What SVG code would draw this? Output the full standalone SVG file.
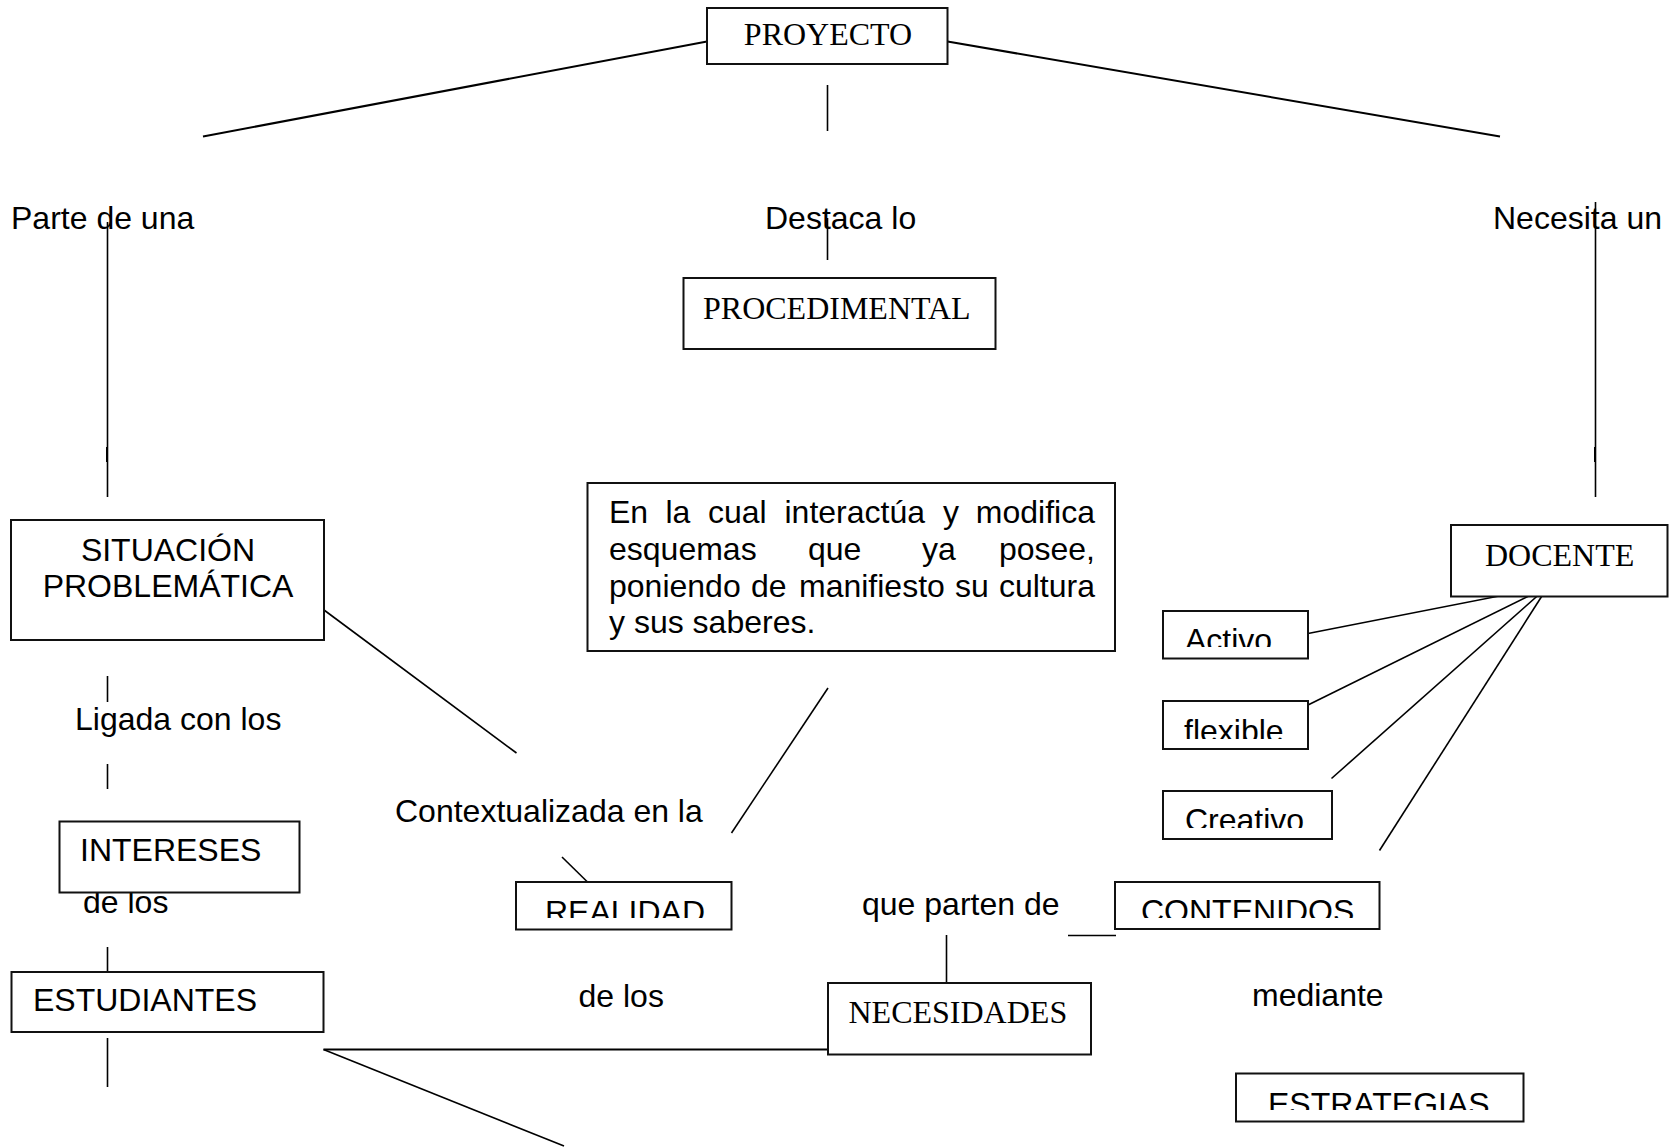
<svg xmlns="http://www.w3.org/2000/svg" width="1675" height="1147" viewBox="0 0 1675 1147">
<style>
.box{fill:#fff;stroke:#111;stroke-width:2}
.ln{stroke:#000;stroke-width:1.6;fill:none}
.ln2{stroke:#000;stroke-width:2;fill:none}
.s{font-family:"Liberation Sans",Arial,sans-serif;font-size:32px;fill:#000}
.r{font-family:"Liberation Serif","Times New Roman",serif;font-size:32px;fill:#000}
</style>
<defs>
<clipPath id="cA"><rect x="1163" y="611" width="145" height="36"/></clipPath>
<clipPath id="cF"><rect x="1163" y="701" width="145" height="38"/></clipPath>
<clipPath id="cC"><rect x="1163" y="791" width="169" height="37"/></clipPath>
<clipPath id="cR"><rect x="516" y="882" width="216" height="36"/></clipPath>
<clipPath id="cN"><rect x="1115" y="882" width="265" height="36"/></clipPath>
<clipPath id="cE"><rect x="1236" y="1073" width="288" height="37"/></clipPath>
</defs>
<rect width="1675" height="1147" fill="#fff"/>
<g id="connectors">
<line class="ln2" x1="707" y1="41.5" x2="203" y2="136.5"/>
<line class="ln2" x1="947.5" y1="41.5" x2="1500" y2="136.5"/>
<line class="ln" x1="827.5" y1="85" x2="827.5" y2="131"/>
<line class="ln" x1="827.5" y1="218" x2="827.5" y2="260"/>
<line class="ln" x1="107.5" y1="222" x2="107.5" y2="497"/>
<line class="ln" x1="106.8" y1="447" x2="106.8" y2="462"/>
<line class="ln" x1="1595.5" y1="202" x2="1595.5" y2="497"/>
<line class="ln" x1="1594.8" y1="447" x2="1594.8" y2="462"/>
<line class="ln" x1="324" y1="610" x2="516.5" y2="753"/>
<line class="ln" x1="107.5" y1="676" x2="107.5" y2="702"/>
<line class="ln" x1="107.5" y1="764" x2="107.5" y2="789"/>
<line class="ln" x1="107.5" y1="855" x2="107.5" y2="882"/>
<line class="ln" x1="107.5" y1="947" x2="107.5" y2="972"/>
<line class="ln" x1="107.5" y1="1038" x2="107.5" y2="1087"/>
<line class="ln2" x1="323.5" y1="1049.5" x2="828" y2="1049.5"/>
<line class="ln" x1="323.5" y1="1049.5" x2="564" y2="1146"/>
<line class="ln" x1="562" y1="857" x2="587.5" y2="882"/>
<line class="ln" x1="828" y1="688" x2="731.5" y2="833"/>
<line class="ln" x1="1548" y1="586.5" x2="1308" y2="633.5"/>
<line class="ln" x1="1548" y1="586.5" x2="1308" y2="705"/>
<line class="ln" x1="1548" y1="586.5" x2="1331.5" y2="778.5"/>
<line class="ln" x1="1548" y1="586.5" x2="1379.5" y2="850.5"/>
<line class="ln" x1="1068" y1="935.5" x2="1116" y2="935.5"/>
<line class="ln" x1="946.5" y1="935" x2="946.5" y2="983"/>
</g>
<g id="labels">
<text class="s" x="11" y="229">Parte de una</text>
<text class="s" x="765" y="229">Destaca lo</text>
<text class="s" x="1493" y="229">Necesita un</text>
<text class="s" x="75" y="730">Ligada con los</text>
<text class="s" x="395" y="822">Contextualizada en la</text>
<text class="s" x="83" y="913">de los</text>
<text class="s" x="862" y="915">que parten de</text>
<text class="s" x="578.5" y="1007">de los</text>
<text class="s" x="1252" y="1006">mediante</text>
</g>
<g id="proyecto">
<rect class="box" x="707" y="8" width="240.5" height="56"/>
<text class="r" x="828" y="45" text-anchor="middle">PROYECTO</text>
</g>
<g id="procedimental">
<rect class="box" x="683.5" y="278" width="312" height="71"/>
<text class="r" x="703" y="319">PROCEDIMENTAL</text>
</g>
<g id="situacion">
<rect class="box" x="11" y="520" width="313" height="120"/>
<text class="s" x="168" y="561" text-anchor="middle">SITUACIÓN</text>
<text class="s" x="168" y="597" text-anchor="middle">PROBLEMÁTICA</text>
</g>
<g id="interactua">
<rect class="box" x="587.5" y="483" width="527.5" height="168"/>
<text class="s" y="523"><tspan x="609">En</tspan><tspan x="665.5">la</tspan><tspan x="708">cual</tspan><tspan x="784.5">interactúa</tspan><tspan x="943">y</tspan><tspan x="1095" text-anchor="end">modifica</tspan></text>
<text class="s" y="560"><tspan x="609">esquemas</tspan><tspan x="808">que</tspan><tspan x="922">ya</tspan><tspan x="1095" text-anchor="end">posee,</tspan></text>
<text class="s" y="597"><tspan x="609">poniendo</tspan><tspan x="751">de</tspan><tspan x="799">manifiesto</tspan><tspan x="955">su</tspan><tspan x="1095" text-anchor="end">cultura</tspan></text>
<text class="s" x="609" y="633">y sus saberes.</text>
</g>
<g id="docente">
<rect class="box" x="1451" y="525" width="216.5" height="71.5"/>
<text class="r" x="1485" y="566">DOCENTE</text>
</g>
<g id="activo">
<rect class="box" x="1163" y="611" width="145" height="47.5"/>
<text class="s" x="1185" y="650.5" clip-path="url(#cA)">Activo</text>
</g>
<g id="flexible">
<rect class="box" x="1163" y="701" width="145" height="48"/>
<text class="s" x="1184" y="742" clip-path="url(#cF)">flexible</text>
</g>
<g id="creativo">
<rect class="box" x="1163" y="791" width="169" height="48"/>
<text class="s" x="1185" y="830.5" clip-path="url(#cC)">Creativo</text>
</g>
<g id="intereses">
<rect class="box" x="59.5" y="821.5" width="240" height="71"/>
<text class="s" x="80" y="861">INTERESES</text>
</g>
<g id="realidad">
<rect class="box" x="516" y="882" width="215.5" height="47.5"/>
<text class="s" x="545" y="922.5" clip-path="url(#cR)">REALIDAD</text>
</g>
<g id="contenidos">
<rect class="box" x="1115" y="882" width="264.5" height="47"/>
<text class="s" x="1141" y="921.5" clip-path="url(#cN)">CONTENIDOS</text>
</g>
<g id="estudiantes">
<rect class="box" x="11.5" y="972" width="312" height="60"/>
<text class="s" x="33" y="1011">ESTUDIANTES</text>
</g>
<g id="necesidades">
<rect class="box" x="828" y="983" width="263" height="71.5"/>
<text class="r" x="848.5" y="1022.5">NECESIDADES</text>
</g>
<g id="estrategias">
<rect class="box" x="1236" y="1073.5" width="287.5" height="48"/>
<text class="s" x="1268" y="1114.5" clip-path="url(#cE)">ESTRATEGIAS</text>
</g>
</svg>
